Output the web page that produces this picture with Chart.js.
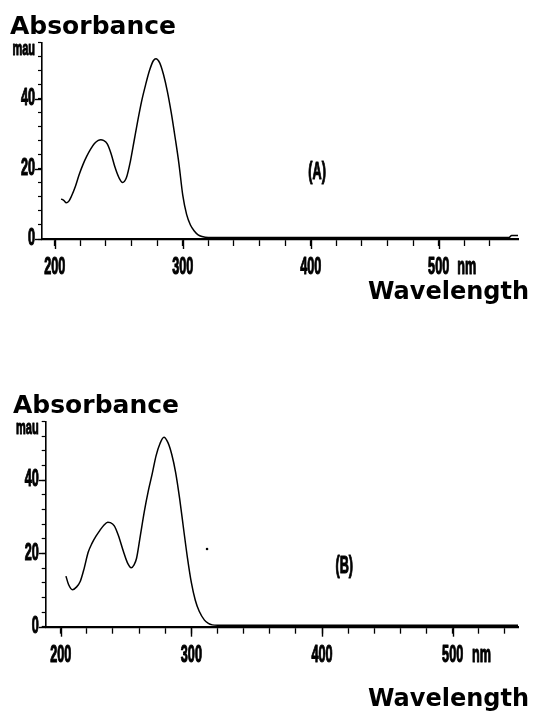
<!DOCTYPE html>
<html><head><meta charset="utf-8">
<script src="https://cdn.jsdelivr.net/npm/chart.js@4.4.1/dist/chart.umd.min.js"></script>
<style>
html,body{margin:0;padding:0;background:#fff;width:534px;height:726px;overflow:hidden;}
.panel{position:absolute;left:0;width:534px;height:363px;}
#pa{top:0}#pb{top:363px}
</style></head><body>
<div class="panel" id="pa"><canvas id="ca" width="534" height="363"></canvas></div>
<div class="panel" id="pb"><canvas id="cb" width="534" height="363"></canvas></div>
<script>
// ---- data ----
const wavelengthA = [205,207,209,211,213,216,219,222,225,228,231,234,236,238,241,244,247,250,253,256,259,262,265,268,271,274,277,279,282,285,288,291,294,297,300,303,306,309,312,315,320,340,380,420,460,500,540,555,557,562];
const absorbanceA = [11.4,11.0,10.3,10.8,12.2,14.9,18.3,21.2,23.6,25.6,27.2,28.1,28.3,28.1,27.1,24.3,20.5,17.6,16.1,17.5,22,28,34,39.5,44,48,50.8,51.4,50.2,46.8,42,36,29,21.5,12.5,7,4,2.3,1.2,0.7,0.4,0.4,0.4,0.4,0.4,0.4,0.4,0.4,1.0,1.0];

const wavelengthB = [204,206,209,212,215,218,221,224,227,230,233,236,238,241,244,248,251,254,256,258,261,264,267,270,273,276,279,282,285,288,291,294,297,300,303,306,310,313,316,320,360,420,480,550];
const absorbanceB = [13.8,11.5,10.1,10.8,12.4,16.0,20.3,22.8,24.7,26.3,27.7,28.5,28.4,27.5,25.0,20.5,17.5,16.1,16.8,18.6,25,31.5,37,41.7,46.7,50,51.7,50.3,47,42,35,26.8,18.8,12,7.2,4.2,1.8,0.9,0.5,0.4,0.4,0.4,0.4,0.4];
const specksB = [{x:312, y:21.2}];

const xTickValues = [200,220,240,260,280,300,320,340,360,380,400,420,440,460,480,500,520,540];
const xMajorTicks = [200,300,400,500];
const xUnit = {value:522, label:'nm'};
const yTickValues = [0,4,8,12,16,20,24,28,32,36,40,44,48,52,56];
const yMajorTicks = [0,20,40];
const yUnit = {value:54, label:'mau'};
const yTitle = 'Absorbance';
const xTitle = 'Wavelength';
const panelLabels = ['(A)','(B)'];

// ---- styling ----
// Text set in the "Narrow" family is drawn horizontally condensed (the installed fallback is Liberation Sans).
const NARROW = "'Liberation Sans Narrow','Liberation Sans',Arial,sans-serif";
const BOLDSANS = "'DejaVu Sans','Liberation Sans',sans-serif";
const CONDENSE = 0.55;
(function(){
  const P = CanvasRenderingContext2D.prototype;
  const origFill = P.fillText, origStroke = P.strokeText, origMeasure = P.measureText;
  P.fillText = function(t, x, y, mw){
    if (this.font.indexOf('Narrow') >= 0) {
      this.save(); this.translate(x, y); this.scale(CONDENSE, 1);
      origFill.call(this, t, 0, 0);
      this.strokeStyle = this.fillStyle; this.lineWidth = 1.1; this.lineJoin = 'round';
      origStroke.call(this, t, 0, 0);
      this.restore(); return;
    }
    return mw === undefined ? origFill.call(this, t, x, y) : origFill.call(this, t, x, y, mw);
  };
  P.measureText = function(t){
    const m = origMeasure.call(this, t);
    if (this.font.indexOf('Narrow') >= 0) return {width: m.width * CONDENSE, actualBoundingBoxAscent: m.actualBoundingBoxAscent, actualBoundingBoxDescent: m.actualBoundingBoxDescent};
    return m;
  };
})();

const extras = {
  id: 'extras',
  afterDraw(chart, args, o) {
    const {ctx} = chart; const xs = chart.scales.x, ys = chart.scales.y;
    ctx.save();
    ctx.strokeStyle = '#000'; ctx.lineWidth = 1.4;
    xMajorTicks.forEach(v => { const p = Math.round(xs.getPixelForValue(v)) + 0.5; ctx.beginPath(); ctx.moveTo(p, xs.top); ctx.lineTo(p, xs.top + o.xMajorLen); ctx.stroke(); });
    yMajorTicks.forEach(v => { const p = Math.round(ys.getPixelForValue(v)) + 0.5; ctx.beginPath(); ctx.moveTo(ys.right, p); ctx.lineTo(ys.right - o.yMajorLen, p); ctx.stroke(); });
    ctx.fillStyle = '#000';
    ctx.font = 'bold 23px ' + NARROW; ctx.textAlign = 'center'; ctx.textBaseline = 'middle';
    ctx.fillText(o.panel, xs.getPixelForValue(o.panelAt[0]), ys.getPixelForValue(o.panelAt[1]));
    ctx.font = 'bold 24px ' + BOLDSANS; ctx.textAlign = 'right';
    ctx.fillText(xTitle, o.titleRight, o.titleY);
    ctx.restore();
  }
};

function makeChart(id, wl, ab, cfg) {
  const datasets = [{
    data: wl.map((w,i)=>({x:w, y:ab[i]})),
    borderColor:'#000', borderWidth:1.5, pointRadius:0, cubicInterpolationMode:'monotone', fill:false
  }];
  if (cfg.specks) datasets.push({data: cfg.specks, showLine:false, pointRadius:1.3, pointBackgroundColor:'#000', pointBorderWidth:0});
  return new Chart(document.getElementById(id), {
    type:'line',
    data:{datasets},
    plugins:[extras],
    options:{
      responsive:false, animation:false, devicePixelRatio:1,
      layout:{padding:{left:cfg.padLeft, right:16, top:0, bottom:0}},
      plugins:{
        legend:{display:false}, tooltip:{enabled:false},
        title:{display:true, text:yTitle, align:'start', color:'#000',
          font:{family:BOLDSANS, size:25, weight:'bold', lineHeight:1.2},
          padding:{top:cfg.titleTop, bottom:0}},
        extras:cfg.extras
      },
      scales:{
        x:{type:'linear', min:cfg.xMin, max:cfg.xMax,
          afterBuildTicks:s=>{ s.ticks = xTickValues.concat([xUnit.value]).sort((a,b)=>a-b).map(v=>({value:v})); },
          afterFit:s=>{ s.height = cfg.xHeight; },
          ticks:{autoSkip:false, maxRotation:0, minRotation:0, padding:cfg.xPad, color:'#000',
            font:{family:NARROW, size:23, weight:'bold'},
            callback:v=> v===xUnit.value ? xUnit.label : (xMajorTicks.includes(v) ? String(v) : '')},
          grid:{drawOnChartArea:false, tickLength:7, tickWidth:1.3,
            tickColor:c=> (c.tick && c.tick.value===xUnit.value) ? 'rgba(0,0,0,0)' : '#000'},
          border:{color:'#000', width:2.2}
        },
        y:{type:'linear', min:0, max:56,
          afterBuildTicks:s=>{ s.ticks = yTickValues.concat([yUnit.value]).sort((a,b)=>a-b).map(v=>({value:v})); },
          afterFit:s=>{ s.width = cfg.yWidth; },
          ticks:{autoSkip:false, padding:3, color:'#000',
            font:c=> (c.tick && c.tick.value===yUnit.value) ? {family:NARROW, size:20, weight:'bold'} : {family:NARROW, size:23, weight:'bold'},
            callback:v=> v===yUnit.value ? yUnit.label : (yMajorTicks.includes(v) ? String(v) : '')},
          grid:{drawOnChartArea:false, tickLength:4, tickWidth:1.2,
            tickColor:c=> (c.tick && c.tick.value===yUnit.value) ? 'rgba(0,0,0,0)' : '#000'},
          border:{color:'#000', width:1.6}
        }
      }
    }
  });
}

makeChart('ca', wavelengthA, absorbanceA, {
  padLeft:10, yWidth:32, titleTop:12.5, xMin:190, xMax:562, xHeight:124, xPad:8,
  extras:{panel:panelLabels[0], panelAt:[405,19], titleRight:529, titleY:293, xMajorLen:10, yMajorLen:7}
});
makeChart('cb', wavelengthB, absorbanceB, {
  padLeft:13, yWidth:32.7, titleTop:28.5, xMin:188.5, xMax:550, xHeight:99.3, xPad:8, specks:specksB,
  extras:{panel:panelLabels[1], panelAt:[417,16.3], titleRight:529, titleY:337, xMajorLen:10, yMajorLen:7}
});
</script>
</body></html>
